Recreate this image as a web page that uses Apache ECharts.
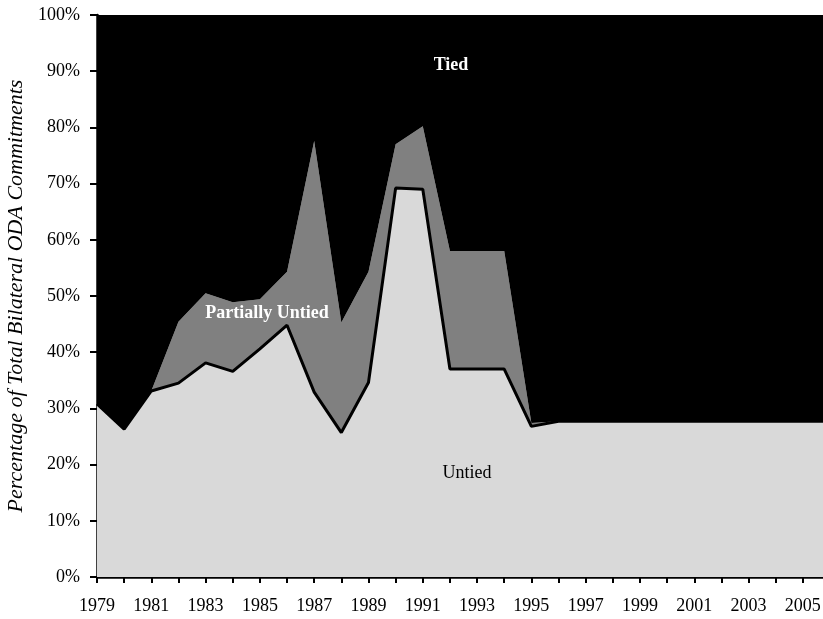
<!DOCTYPE html>
<html>
<head>
<meta charset="utf-8">
<script src="https://cdn.jsdelivr.net/npm/echarts@6/dist/echarts.min.js"></script>
<style>
  html, body { margin: 0; padding: 0; background: #fff; }
  #chart { width: 823px; height: 619px; }
</style>
</head>
<body>
<div id="chart"></div>
<script>
const years = ['1979', '1980', '1981', '1982', '1983', '1984', '1985', '1986', '1987', '1988',
  '1989', '1990', '1991', '1992', '1993', '1994', '1995', '1996', '1997', '1998',
  '1999', '2000', '2001', '2002', '2003', '2004', '2005', '2006']

// shares of total, in percent (stacked)
const untied = [30.8, 26.3, 33.1, 34.5, 38.1, 36.6, 40.6, 44.8, 32.9, 25.7,
  34.6, 69.2, 69.0, 37.0, 37.0, 37.0, 26.8, 27.7, 27.7, 27.7,
  27.7, 27.7, 27.7, 27.7, 27.7, 27.7, 27.7, 27.7]
const partiallyUntied = [0, 0, 0, 10.9, 12.4, 12.3, 8.8, 9.5, 44.7, 19.6,
  19.7, 7.8, 11.2, 21.0, 21.0, 21.0, 0.6, 0, 0, 0,
  0, 0, 0, 0, 0, 0, 0, 0]
const tied = [69.2, 73.7, 66.9, 54.6, 49.5, 51.1, 50.6, 45.7, 22.4, 54.7,
  45.7, 23.0, 19.8, 42.0, 42.0, 42.0, 72.6, 72.3, 72.3, 72.3,
  72.3, 72.3, 72.3, 72.3, 72.3, 72.3, 72.3, 72.3]

const yTicks = { min: 0, max: 100, interval: 10 }

const font = 'Liberation Serif'
const chart = echarts.init(document.getElementById('chart'))

const option = {
  animation: false,
  textStyle: { fontFamily: font },
  grid: {
    left: 97,
    right: -7,
    top: 15,
    bottom: 42,
    containLabel: false,
    outerBoundsMode: 'none'
  },
  xAxis: {
    type: 'category',
    data: years,
    boundaryGap: false,
    axisLine: { lineStyle: { color: '#000', width: 2.5 } },
    axisTick: { show: true, interval: 0, length: 6, lineStyle: { color: '#000', width: 2 } },
    axisLabel: {
      interval: 1,
      color: '#000',
      fontSize: 18,
      fontFamily: font,
      margin: 20
    },
    splitLine: { show: false }
  },
  yAxis: {
    type: 'value',
    min: yTicks.min,
    max: yTicks.max,
    interval: yTicks.interval,
    name: 'Percentage of Total Bilateral ODA Commitments',
    nameLocation: 'middle',
    nameGap: 64,
    nameTextStyle: {
      fontFamily: font,
      fontStyle: 'italic',
      fontSize: 22,
      color: '#000'
    },
    axisLine: { show: true, lineStyle: { color: '#000', width: 2.5 } },
    axisTick: { show: true, length: 7, lineStyle: { color: '#000', width: 2 } },
    axisLabel: {
      formatter: '{value}%',
      color: '#000',
      fontSize: 18,
      fontFamily: font,
      margin: 17
    },
    splitLine: { show: false }
  },
  series: [
    {
      name: 'Untied',
      type: 'line',
      stack: 'total',
      data: untied,
      symbol: 'none',
      z: 4,
      lineStyle: { color: '#000', width: 3 },
      areaStyle: { color: '#d9d9d9', opacity: 1 }
    },
    {
      name: 'Partially Untied',
      type: 'line',
      stack: 'total',
      data: partiallyUntied,
      symbol: 'none',
      z: 2,
      lineStyle: { width: 0 },
      areaStyle: { color: '#808080', opacity: 1 }
    },
    {
      name: 'Tied',
      type: 'line',
      stack: 'total',
      data: tied,
      symbol: 'none',
      z: 2,
      lineStyle: { width: 0 },
      areaStyle: { color: '#000', opacity: 1 }
    }
  ],
  graphic: [
    {
      type: 'text', x: 451, y: 65, z: 10,
      style: { text: 'Tied', fill: '#fff', align: 'center', verticalAlign: 'middle', font: 'bold 18px "Liberation Serif"' }
    },
    {
      type: 'text', x: 267, y: 313, z: 10,
      style: { text: 'Partially Untied', fill: '#fff', align: 'center', verticalAlign: 'middle', font: 'bold 18px "Liberation Serif"' }
    },
    {
      type: 'text', x: 467, y: 473, z: 10,
      style: { text: 'Untied', fill: '#000', align: 'center', verticalAlign: 'middle', font: '18px "Liberation Serif"' }
    }
  ]
}

chart.setOption(option)
</script>
</body>
</html>
